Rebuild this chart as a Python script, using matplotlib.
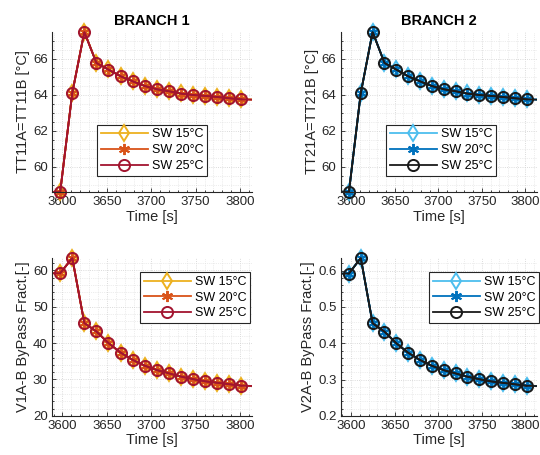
import matplotlib.pyplot as plt
from matplotlib.ticker import MultipleLocator

plt.rcParams["font.family"] = ["Liberation Sans", "DejaVu Sans"]

# time axis [s] (first and last points lie just outside the shown window)
TIME = [3584.0, 3597.4, 3611.0, 3624.6, 3638.2, 3651.8, 3665.4, 3679.0, 3692.6,
        3706.2, 3719.8, 3733.4, 3747.0, 3760.6, 3774.2, 3787.8, 3801.4, 3815.0]

SW_LABELS = ["SW 15°C", "SW 20°C", "SW 25°C"]

# branch 1 temperature [°C]
TT1_SW15 = [58.60, 58.60, 64.10, 67.49, 65.78, 65.40, 65.03, 64.75, 64.49,
            64.31, 64.20, 64.07, 63.99, 63.94, 63.88, 63.81, 63.75, 63.73]
TT1_SW20 = [58.59, 58.59, 64.09, 67.48, 65.77, 65.40, 65.03, 64.75, 64.49,
            64.31, 64.19, 64.06, 63.98, 63.93, 63.87, 63.80, 63.74, 63.72]
TT1_SW25 = [58.59, 58.59, 64.09, 67.48, 65.76, 65.39, 65.02, 64.74, 64.48,
            64.30, 64.19, 64.06, 63.98, 63.93, 63.87, 63.80, 63.74, 63.72]

# branch 2 temperature [°C]
TT2_SW15 = [58.60, 58.60, 64.10, 67.49, 65.78, 65.40, 65.03, 64.75, 64.49,
            64.31, 64.20, 64.07, 63.99, 63.94, 63.88, 63.81, 63.75, 63.73]
TT2_SW20 = [58.59, 58.59, 64.09, 67.48, 65.77, 65.40, 65.03, 64.75, 64.49,
            64.31, 64.19, 64.06, 63.98, 63.93, 63.87, 63.80, 63.74, 63.72]
TT2_SW25 = [58.59, 58.59, 64.09, 67.48, 65.76, 65.39, 65.02, 64.74, 64.48,
            64.30, 64.19, 64.06, 63.98, 63.93, 63.87, 63.80, 63.74, 63.72]

# branch 1 bypass fraction
BP1_SW15 = [59.2, 59.2, 63.4, 45.6, 43.2, 40.0, 37.4, 35.4, 33.8,
            32.6, 31.7, 30.8, 30.1, 29.5, 29.1, 28.7, 28.3, 28.2]
BP1_SW20 = [59.2, 59.2, 63.4, 45.5, 43.2, 40.0, 37.4, 35.4, 33.8,
            32.6, 31.7, 30.8, 30.1, 29.5, 29.1, 28.7, 28.3, 28.2]
BP1_SW25 = [59.2, 59.2, 63.4, 45.5, 43.2, 40.0, 37.4, 35.4, 33.8,
            32.6, 31.7, 30.8, 30.1, 29.5, 29.1, 28.7, 28.3, 28.2]

# branch 2 bypass fraction
BP2_SW15 = [0.592, 0.592, 0.635, 0.456, 0.432, 0.400, 0.374, 0.354, 0.338,
            0.326, 0.317, 0.308, 0.301, 0.295, 0.291, 0.287, 0.283, 0.282]
BP2_SW20 = [0.592, 0.592, 0.635, 0.455, 0.432, 0.400, 0.374, 0.354, 0.338,
            0.326, 0.317, 0.308, 0.301, 0.295, 0.291, 0.287, 0.283, 0.282]
BP2_SW25 = [0.592, 0.592, 0.635, 0.455, 0.432, 0.400, 0.374, 0.354, 0.338,
            0.326, 0.317, 0.308, 0.301, 0.295, 0.291, 0.287, 0.283, 0.282]

XLIM = (3588, 3813)
TEXT = "#262626"

COLORS_1 = ["#EDB120", "#D95319", "#A2142F"]
COLORS_2 = ["#4DBEEE", "#0072BD", "#1A1A1A"]
MARKERS = ["d", (6, 2, 0), "o"]
SIZES = [8.5, 8, 8]


def draw(ax, series, colors, title, ylabel, ylim, ymajor, yminor, leg_xy):
    inside = [i for i, t in enumerate(TIME) if XLIM[0] <= t <= XLIM[1]]
    for values, color, marker, ms, label in zip(series, colors, MARKERS,
                                                SIZES, SW_LABELS):
        ax.plot(TIME, values, color=color, lw=1.3)
        ax.plot([TIME[i] for i in inside], [values[i] for i in inside],
                color=color, lw=1.3, marker=marker, ms=ms, mfc="none",
                mew=1.4, clip_on=False, label=label)

    ax.set_xlim(*XLIM)
    ax.set_ylim(*ylim)
    ax.xaxis.set_major_locator(MultipleLocator(50))
    ax.xaxis.set_minor_locator(MultipleLocator(10))
    ax.yaxis.set_major_locator(MultipleLocator(ymajor))
    ax.yaxis.set_minor_locator(MultipleLocator(yminor))
    ax.grid(which="major", color="#cfcfcf", lw=0.6, ls=":")
    ax.grid(which="minor", color="#dcdcdc", lw=0.5, ls=":")
    ax.set_axisbelow(True)

    for side in ("top", "right"):
        ax.spines[side].set_visible(False)
    for side in ("left", "bottom"):
        ax.spines[side].set_color(TEXT)
        ax.spines[side].set_linewidth(0.8)
    ax.tick_params(which="both", direction="in", colors=TEXT, labelsize=9.5,
                   width=0.6)
    ax.tick_params(which="major", length=3, pad=3)
    ax.tick_params(which="minor", length=1.5)

    ax.set_xlabel("Time [s]", fontsize=10.5, color=TEXT, labelpad=1)
    ax.set_ylabel(ylabel, fontsize=10.5, color=TEXT, labelpad=2)
    if title:
        ax.set_title(title, fontsize=10.5, fontweight="bold", pad=5)

    leg = ax.legend(loc="upper left", bbox_to_anchor=leg_xy, fontsize=9,
                    numpoints=1, handlelength=3.8, handletextpad=0.3,
                    labelspacing=0.3, borderpad=0.3, borderaxespad=0,
                    fancybox=False, framealpha=1)
    leg.get_frame().set_edgecolor(TEXT)
    leg.get_frame().set_linewidth(0.8)


fig = plt.figure(figsize=(5.4, 4.55), dpi=100)
ax1 = fig.add_axes([0.096, 0.578, 0.370, 0.352])
ax2 = fig.add_axes([0.631, 0.578, 0.363, 0.352])
ax3 = fig.add_axes([0.096, 0.086, 0.370, 0.347])
ax4 = fig.add_axes([0.631, 0.086, 0.363, 0.347])

tt1 = [TT1_SW15, TT1_SW20, TT1_SW25]
tt2 = [TT2_SW15, TT2_SW20, TT2_SW25]
bp1 = [BP1_SW15, BP1_SW20, BP1_SW25]
bp2 = [BP2_SW15, BP2_SW20, BP2_SW25]

draw(ax1, tt1, COLORS_1, "BRANCH 1", "TT11A=TT11B [°C]",
     (min(map(min, tt1)), max(map(max, tt1))), 2, 0.5, (0.225, 0.42))
draw(ax2, tt2, COLORS_2, "BRANCH 2", "TT21A=TT21B [°C]",
     (min(map(min, tt2)), max(map(max, tt2))), 2, 0.5, (0.23, 0.42))
draw(ax3, bp1, COLORS_1, None, "V1A-B ByPass Fract.[-]",
     (20, max(map(max, bp1))), 10, 2, (0.44, 0.91))
draw(ax4, bp2, COLORS_2, None, "V2A-B ByPass Fract.[-]",
     (0.2, max(map(max, bp2))), 0.1, 0.02, (0.45, 0.91))

fig.savefig("out.png", dpi=100)
